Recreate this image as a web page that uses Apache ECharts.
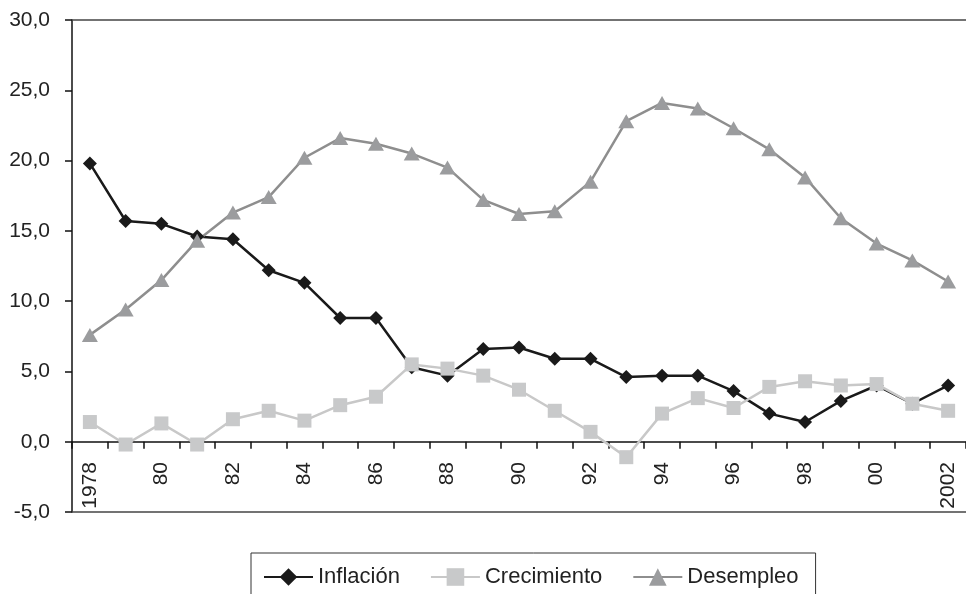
<!DOCTYPE html>
<html>
<head>
<meta charset="utf-8">
<script src="https://cdn.jsdelivr.net/npm/echarts@6/dist/echarts.min.js"></script>
<style>
  html, body { margin: 0; padding: 0; background: #fff; }
  #chart { width: 966px; height: 594px; }
</style>
</head>
<body>
<div id="chart"></div>
<script>
// Años de la serie
const years = [1978, 1979, 1980, 1981, 1982, 1983, 1984, 1985, 1986, 1987, 1988, 1989, 1990,
               1991, 1992, 1993, 1994, 1995, 1996, 1997, 1998, 1999, 2000, 2001, 2002];

// Valores anuales (%)
const inflacion = [19.8, 15.7, 15.5, 14.6, 14.4, 12.2, 11.3, 8.8, 8.8, 5.3, 4.7, 6.6, 6.7,
                   5.9, 5.9, 4.6, 4.7, 4.7, 3.6, 2.0, 1.4, 2.9, 4.0, 2.7, 4.0];
const crecimiento = [1.4, -0.2, 1.3, -0.2, 1.6, 2.2, 1.5, 2.6, 3.2, 5.5, 5.2, 4.7, 3.7,
                     2.2, 0.7, -1.1, 2.0, 3.1, 2.4, 3.9, 4.3, 4.0, 4.1, 2.7, 2.2];
const desempleo = [7.6, 9.4, 11.5, 14.3, 16.3, 17.4, 20.2, 21.6, 21.2, 20.5, 19.5, 17.2, 16.2,
                   16.4, 18.5, 22.8, 24.1, 23.7, 22.3, 20.8, 18.8, 15.9, 14.1, 12.9, 11.4];

// Eje vertical
const yMin = -5, yMax = 30, yStep = 5;

const FONT = 'Liberation Sans, Arial, sans-serif';

function yearLabel(v, i) {
  if (i === 0 || i === years.length - 1) return String(v);
  return String(v).slice(2);
}

const chart = echarts.init(document.getElementById('chart'), null, { renderer: 'canvas' });

chart.setOption({
  animation: false,
  backgroundColor: '#ffffff',
  textStyle: { fontFamily: FONT },
  grid: { left: 72, top: 20, width: 895, height: 492, containLabel: false },
  legend: {
    data: ['Inflación', 'Crecimiento', 'Desempleo'],
    left: 251,
    top: 553,
    orient: 'horizontal',
    itemWidth: 49,
    itemHeight: 22,
    itemGap: 30,
    padding: [13, 17, 30, 12],
    borderColor: '#333',
    borderWidth: 1,
    textStyle: { fontFamily: FONT, fontSize: 22, color: '#222' }
  },
  xAxis: [
    {
      type: 'category',
      data: years,
      boundaryGap: true,
      axisLine: { onZero: true, lineStyle: { color: '#111', width: 1.5 } },
      axisTick: { show: true, interval: 0, length: 7, lineStyle: { color: '#111', width: 1.5 } },
      axisLabel: {
        interval: 1,
        rotate: 90,
        // labels sit in the band between 0 and -5, just under the zero line
        margin: -50,
        fontFamily: FONT,
        fontSize: 21,
        color: '#222',
        formatter: yearLabel
      },
      splitLine: { show: false }
    }
  ],
  yAxis: {
    type: 'value',
    min: yMin,
    max: yMax,
    interval: yStep,
    axisLine: { show: true, lineStyle: { color: '#111', width: 1.5 } },
    axisTick: { show: true, length: 7, lineStyle: { color: '#111', width: 1.5 } },
    axisLabel: {
      margin: 22,
      fontFamily: FONT,
      fontSize: 21,
      color: '#222',
      formatter: v => v.toFixed(1).replace('.', ',')
    },
    splitLine: { show: false }
  },
  series: [
    {
      name: 'Inflación',
      type: 'line',
      data: inflacion,
      symbol: 'diamond',
      symbolSize: 14,
      lineStyle: { color: '#1a1a1a', width: 2.5 },
      itemStyle: { color: '#1a1a1a' }
    },
    {
      name: 'Crecimiento',
      type: 'line',
      data: crecimiento,
      symbol: 'rect',
      symbolSize: 14,
      lineStyle: { color: '#c8c8c8', width: 2.5 },
      itemStyle: { color: '#c8c9ca' },
      // Bordes superior e inferior del área de trazado
      markLine: {
        silent: true,
        symbol: 'none',
        label: { show: false },
        lineStyle: { color: '#444', width: 1.5, type: 'solid' },
        data: [{ yAxis: yMax }, { yAxis: yMin }]
      }
    },
    {
      name: 'Desempleo',
      type: 'line',
      data: desempleo,
      symbol: 'triangle',
      symbolSize: [16, 14],
      lineStyle: { color: '#8e8e8e', width: 2.5 },
      itemStyle: { color: '#9b9c9e' }
    }
  ]
});
</script>
</body>
</html>
